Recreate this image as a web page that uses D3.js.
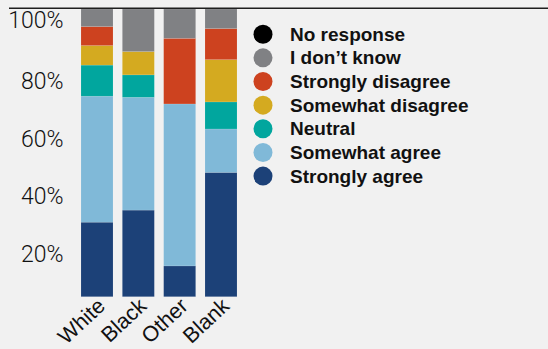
<!DOCTYPE html>
<html>
<head>
<meta charset="utf-8">
<script src="https://cdn.jsdelivr.net/npm/d3@7/dist/d3.min.js"></script>
<style>
  html, body { margin: 0; padding: 0; background: #f1f1f1; }
  svg { display: block; }
  .ylab { font-family: Roboto, "Liberation Sans", Arial, sans-serif; font-weight: 300; font-size: 23px; fill: #111; }
  .xlab { font-family: "Liberation Sans", Arial, sans-serif; font-weight: normal; font-size: 21.5px; fill: #111; }
  .leg { font-family: "Liberation Sans", Arial, sans-serif; font-weight: bold; font-size: 19px; fill: #111; }
</style>
</head>
<body>
<svg id="chart" width="548" height="349"></svg>
<script>
// Respondent groups along the x axis
const groups = ["White", "Black", "Other", "Blank"];

// Response categories, bottom of the stack first
const responses = ["Strongly agree", "Somewhat agree", "Neutral", "Somewhat disagree",
                   "Strongly disagree", "I don't know", "No response"];

// Share of each group (%) giving each response, in group order
const stronglyAgree    = [25.9, 30.1, 10.7, 43.2];
const somewhatAgree    = [43.8, 39.2, 56.3, 15.1];
const neutral          = [10.8,  7.8,  0.0,  9.4];
const somewhatDisagree = [ 6.8,  8.1,  0.0, 14.7];
const stronglyDisagree = [ 6.6,  0.0, 22.8, 10.8];
const dontKnow         = [ 6.1, 14.8, 10.2,  6.8];
const noResponse       = [ 0.0,  0.0,  0.0,  0.0];

const yTicks = [20, 40, 60, 80, 100];

const colors = {
  "Strongly agree": "#1c4178",
  "Somewhat agree": "#80b9d8",
  "Neutral": "#01a69e",
  "Somewhat disagree": "#d4aa20",
  "Strongly disagree": "#cd421f",
  "I don't know": "#808184",
  "No response": "#000000"
};

const seriesValues = [stronglyAgree, somewhatAgree, neutral, somewhatDisagree,
                      stronglyDisagree, dontKnow, noResponse];

// Build one row per group for d3.stack
const rows = groups.map((g, i) => {
  const r = { group: g };
  responses.forEach((k, j) => { r[k] = seriesValues[j][i]; });
  return r;
});

const svg = d3.select("#chart");

const x = d3.scaleBand().domain(groups).range([81, 237]).paddingInner(0.2258).paddingOuter(0);
const y = d3.scaleLinear().domain([0, 100]).range([296.7, 9]);

const stacked = d3.stack().keys(responses)(rows);

// Stacked bars
svg.append("g").selectAll("g")
  .data(stacked)
  .join("g")
  .attr("fill", d => colors[d.key])
  .selectAll("rect")
  .data(d => d)
  .join("rect")
  .attr("x", d => x(d.data.group))
  .attr("width", x.bandwidth())
  .attr("y", d => y(d[1]))
  .attr("height", d => Math.max(0, y(d[0]) - y(d[1])))
  .attr("stroke", "#ffffff")
  .attr("stroke-opacity", 0.18)
  .attr("stroke-width", 0.6);

// Top rule
svg.append("line")
  .attr("x1", 9).attr("x2", 548)
  .attr("y1", y(100) - 0.7).attr("y2", y(100) - 0.7)
  .attr("stroke", "#1e1e1e").attr("stroke-width", 1.4);

// Y labels sit just under their gridline value
svg.append("g").selectAll("text")
  .data(yTicks)
  .join("text")
  .attr("class", "ylab")
  .attr("text-anchor", "end")
  .attr("x", 63.5)
  .attr("y", d => y(d) + (d === 100 ? 19 : 22.5))
  .text(d => d + "%");

// Rotated group labels
svg.append("g").selectAll("text")
  .data(groups)
  .join("text")
  .attr("class", "xlab")
  .attr("text-anchor", "end")
  .attr("transform", d => `translate(${x(d) + x.bandwidth() / 2 + 9.5},${y(0) + 11}) rotate(-43)`)
  .text(d => d);

// Legend, top entry first
const legendOrder = responses.slice().reverse();
const leg = svg.append("g").selectAll("g")
  .data(legendOrder)
  .join("g")
  .attr("transform", (d, i) => `translate(263,${34.2 + i * 23.65})`);

leg.append("circle").attr("r", 9.5).attr("fill", d => colors[d]);
leg.append("text").attr("class", "leg").attr("x", 27).attr("y", 6.6).text(d => d.replace("'", "\u2019"));
</script>
</body>
</html>
